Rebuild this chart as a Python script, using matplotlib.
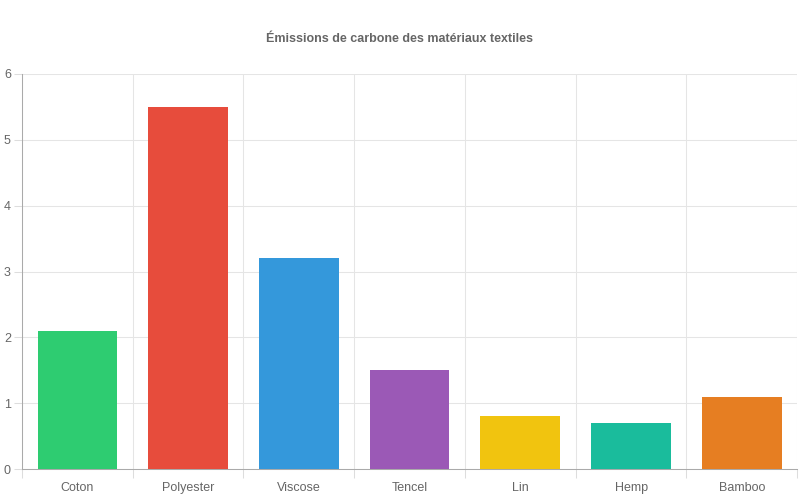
import numpy as np
import matplotlib.pyplot as plt

plt.rcParams['font.family'] = ['Liberation Sans', 'DejaVu Sans']

# Data
materials = ['Coton', 'Polyester', 'Viscose', 'Tencel', 'Lin', 'Hemp', 'Bamboo']
emissions = [2.1, 5.5, 3.2, 1.5, 0.8, 0.7, 1.1]
colors = ['#2ecc71', '#e74c3c', '#3498db', '#9b59b6', '#f1c40f', '#1abc9c', '#e67e22']

fig = plt.figure(figsize=(8, 5), dpi=100)
ax = fig.add_axes([0.0275, 0.062, 0.969, 0.79])

x = np.arange(len(materials))
ax.bar(x, emissions, width=0.72, color=colors, zorder=3)

ax.set_xlim(-0.5, len(materials) - 0.5)
ax.set_ylim(0, 6)

# y axis
ax.set_yticks(range(0, 7))
ax.tick_params(axis='y', length=6, width=0.75, color='#dddddd', labelsize=9,
               labelcolor='#666666', pad=2)
ax.yaxis.grid(True, color='#e5e5e5', linewidth=0.75, zorder=0)

# x axis: labels at centers, grid lines between categories
ax.set_xticks(x)
ax.set_xticklabels(materials, va='baseline')
ax.tick_params(axis='x', which='major', length=0, labelsize=9, labelcolor='#666666', pad=15.5)
ax.set_xticks(np.arange(-0.5, len(materials)), minor=True)
ax.tick_params(axis='x', which='minor', length=6.5, width=0.75, color='#dddddd')
ax.xaxis.grid(True, which='minor', color='#e5e5e5', linewidth=0.75, zorder=0)

for side in ['top', 'right']:
    ax.spines[side].set_visible(False)
ax.spines['left'].set_color('#aaaaaa')
ax.spines['bottom'].set_color('#aaaaaa')
ax.spines['left'].set_linewidth(0.75)
ax.spines['bottom'].set_linewidth(0.75)

fig.text(0.5, 0.922, 'Émissions de carbone des matériaux textiles', ha='center', va='center',
         fontsize=9, fontweight='bold', color='#666666')

fig.savefig('out.png', dpi=100)
